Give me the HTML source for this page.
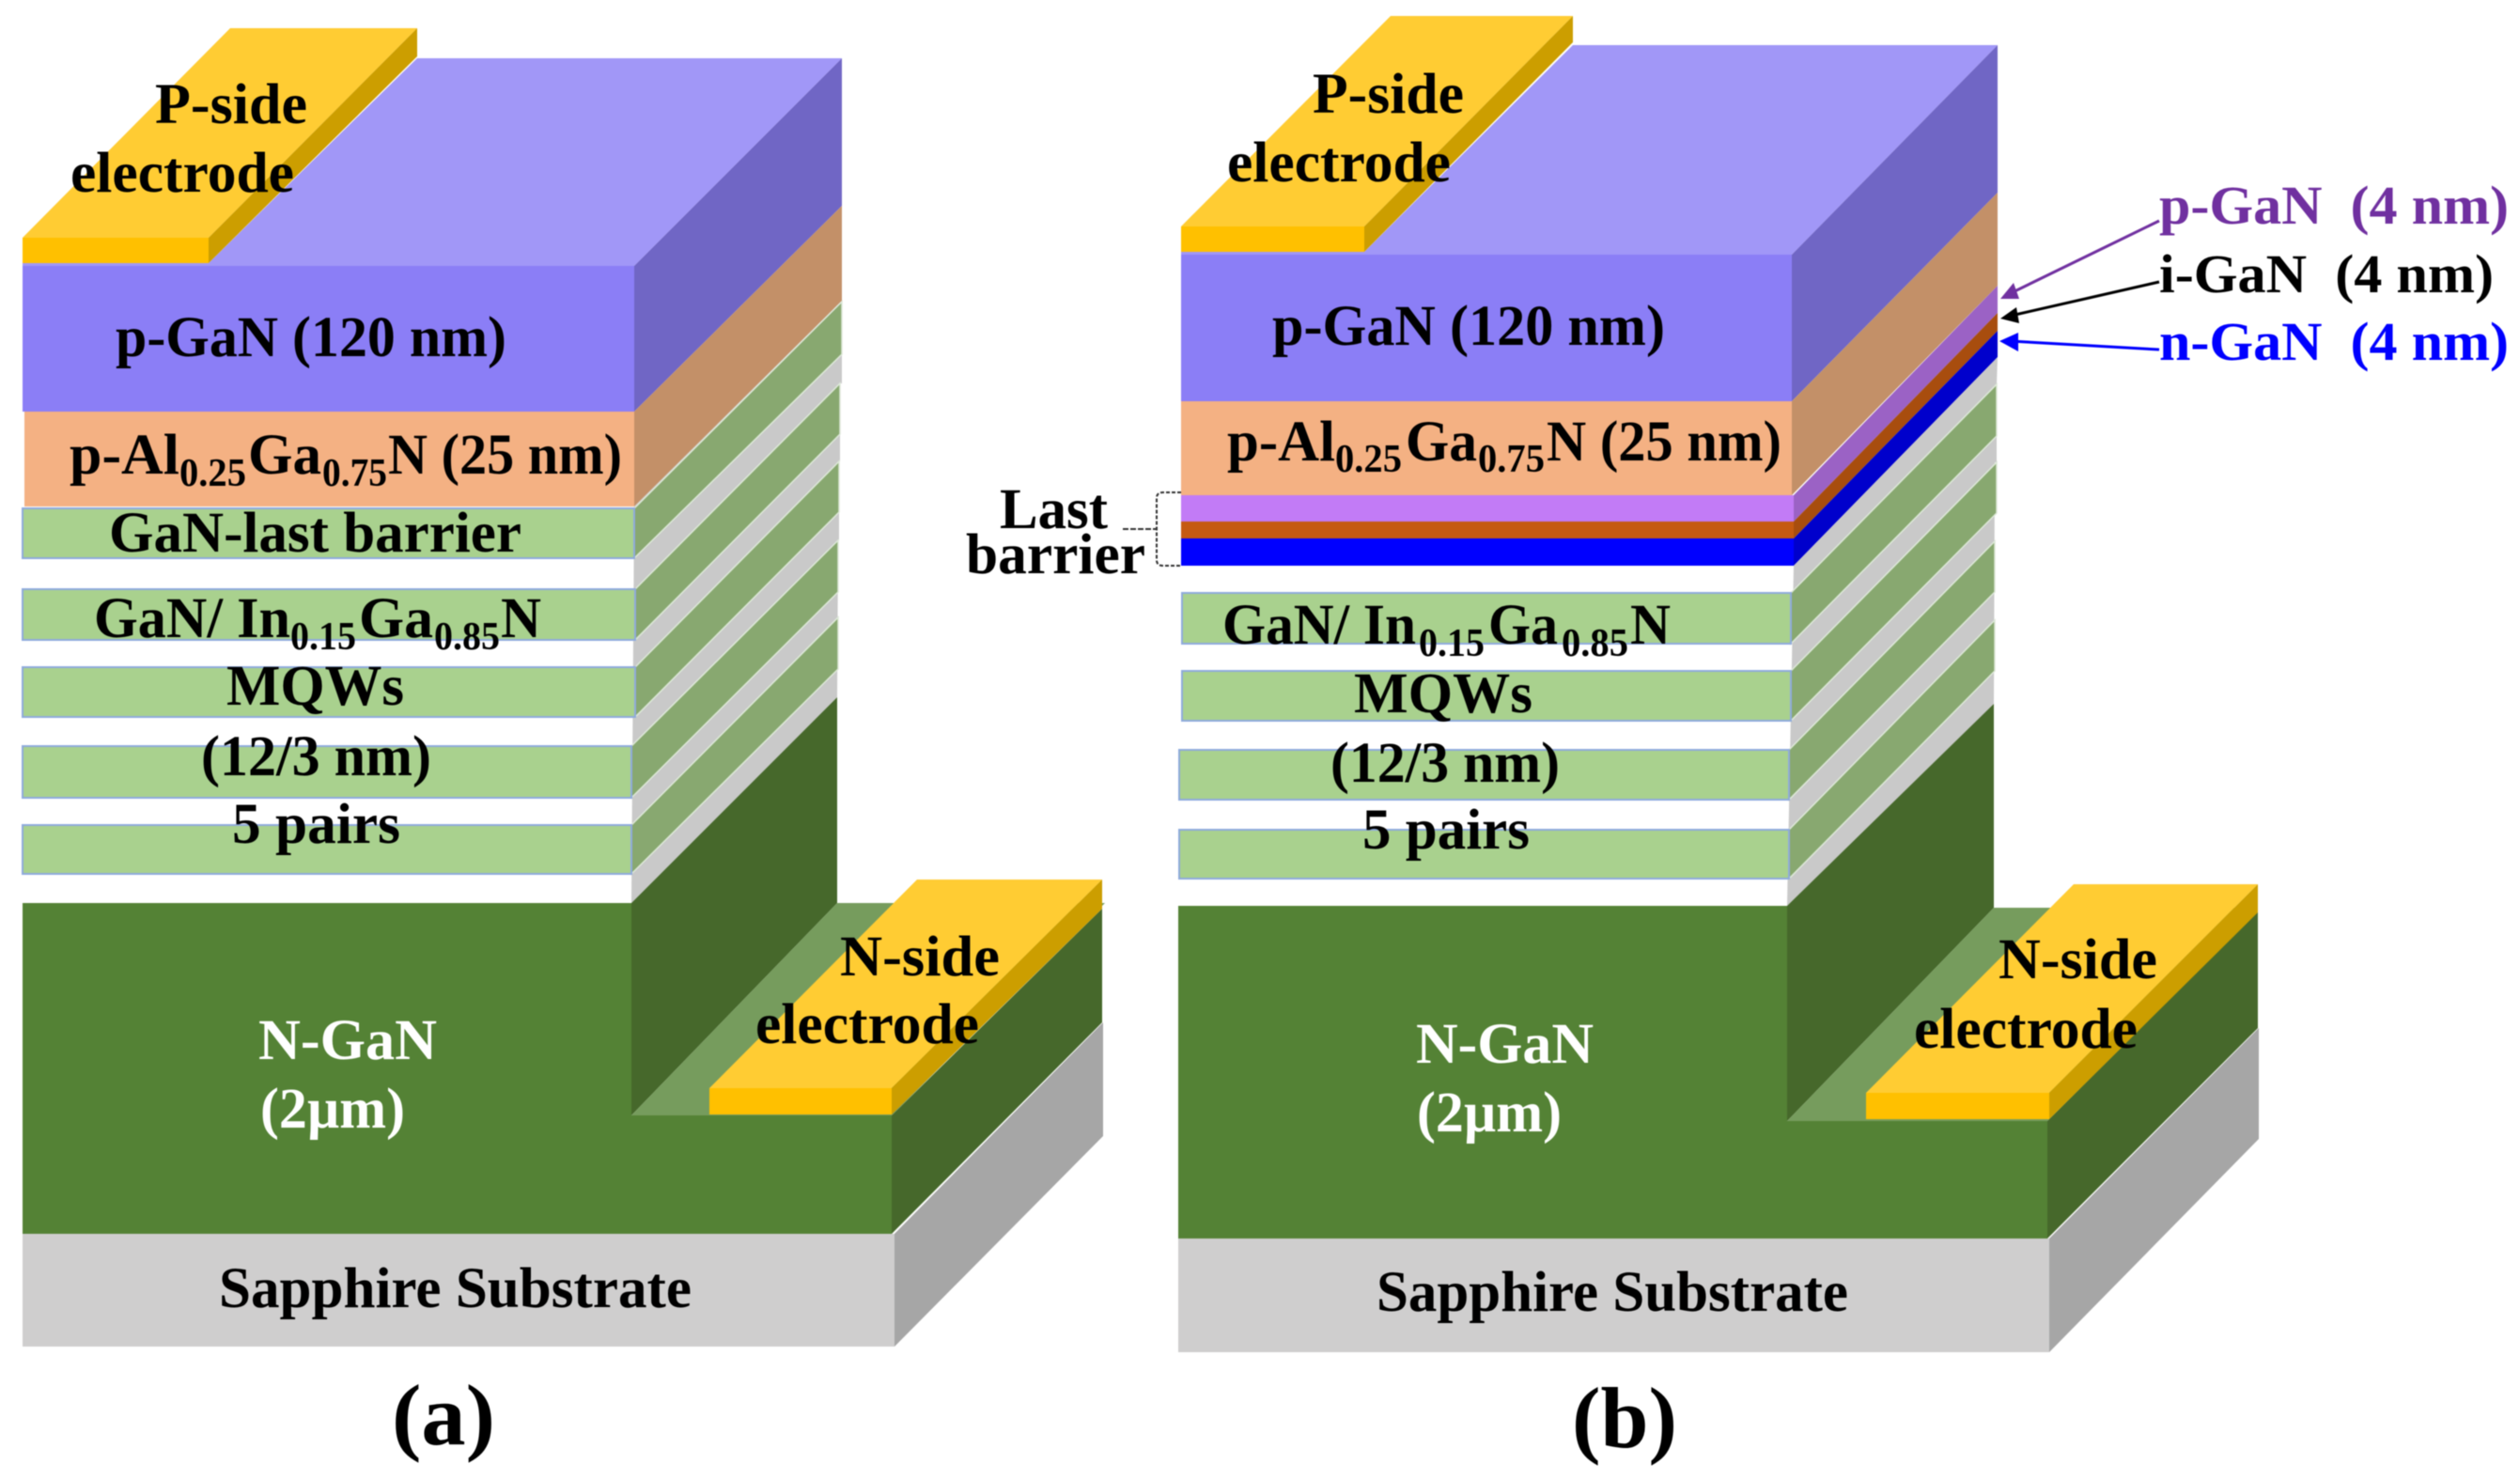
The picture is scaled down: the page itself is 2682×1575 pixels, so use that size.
<!DOCTYPE html>
<html><head><meta charset="utf-8"><style>
html,body{margin:0;padding:0;background:#fff}
svg{display:block;filter:blur(0.6px)}
text{font-family:"Liberation Serif",serif;font-weight:bold;font-size:61px;fill:#000}
.s{font-size:42px}
.w{fill:#fff}
.g{fill:#A9D18E;stroke:#8FAADC;stroke-width:2}
.gs{fill:#88A870;stroke:#DDE8D8;stroke-width:1.5}
</style></head><body>
<svg width="2682" height="1575" viewBox="0 0 2682 1575" xmlns="http://www.w3.org/2000/svg">
<rect width="2682" height="1575" fill="#fff"/>

<!-- PANEL A -->
<polygon points="24,280 222,280 444,62 896,62 675,283 24,283" fill="#A197F7"/>
<polygon points="675,283 896,62 896,219 675,438" fill="#7066C5"/>
<rect x="24" y="283" width="651" height="155" fill="#8B7EF6"/>
<polygon points="675,438 896,219 896,320 675,539" fill="#C39068"/>
<rect x="26" y="438" width="649" height="101" fill="#F4B183"/>
<polygon points="675,539 896,320 896,408 894,408 894,491 893,491 893,575 892,575 891,742 672,961" fill="#C9C9C9"/>
<polygon class="gs" points="675,541 896,321 896,377 675,594"/>
<polygon class="gs" points="676,627 894,408 894,462 676,681"/>
<polygon class="gs" points="676,710 893,491 893,545 676,763"/>
<polygon class="gs" points="672,794 892,575 892,630 672,849"/>
<polygon class="gs" points="672,878 892,657 892,712 672,930"/>
<rect class="g" x="24" y="541" width="651" height="53"/>
<rect class="g" x="24" y="627" width="652" height="54"/>
<rect class="g" x="24" y="710" width="652" height="53"/>
<rect class="g" x="24" y="794" width="648" height="55"/>
<rect class="g" x="24" y="878" width="648" height="52"/>
<polygon points="672,961 891,742 891,961 672,1187" fill="#46682B"/>
<polygon points="672,1187 891,961 1176,961 949,1187" fill="#769C5D"/>
<polygon points="949,1187 1173,967 1173,1088 949,1313" fill="#46682B"/>
<polygon points="24,961 672,961 672,1187 949,1187 949,1313 24,1313" fill="#548235"/>
<polygon points="952,1313 1174,1088 1174,1209 952,1433" fill="#A6A6A6"/>
<rect x="24" y="1313" width="928" height="120" fill="#CFCECE"/>
<polygon points="24,253 222,253 444,30 245,30" fill="#FFCC33"/>
<polygon points="222,253 444,30 444,60 222,280" fill="#CC9E00"/>
<rect x="24" y="253" width="198" height="27" fill="#FFC000"/>
<polygon points="755,1158 949,1158 1173,936 976,936" fill="#FFCC33"/>
<polygon points="949,1158 1173,936 1173,967 949,1186" fill="#CC9E00"/>
<rect x="755" y="1158" width="194" height="28" fill="#FFC000"/>

<text x="165" y="131" textLength="162" lengthAdjust="spacingAndGlyphs">P-side</text>
<text x="75" y="204" textLength="238" lengthAdjust="spacingAndGlyphs">electrode</text>
<text x="123" y="379" textLength="416" lengthAdjust="spacingAndGlyphs">p-GaN (120 nm)</text>
<text x="74" y="504" textLength="117" lengthAdjust="spacingAndGlyphs">p-Al</text>
<text class="s" x="191" y="517" textLength="71" lengthAdjust="spacingAndGlyphs">0.25</text>
<text x="264" y="504" textLength="78" lengthAdjust="spacingAndGlyphs">Ga</text>
<text class="s" x="343" y="517" textLength="69" lengthAdjust="spacingAndGlyphs">0.75</text>
<text x="413" y="504" textLength="249" lengthAdjust="spacingAndGlyphs">N (25 nm)</text>
<text x="116" y="587" textLength="439" lengthAdjust="spacingAndGlyphs">GaN-last barrier</text>
<text x="100" y="678" textLength="209" lengthAdjust="spacingAndGlyphs">GaN/ In</text>
<text class="s" x="309" y="691" textLength="70" lengthAdjust="spacingAndGlyphs">0.15</text>
<text x="382" y="678" textLength="79" lengthAdjust="spacingAndGlyphs">Ga</text>
<text class="s" x="462" y="691" textLength="70" lengthAdjust="spacingAndGlyphs">0.85</text>
<text x="533" y="678" textLength="43" lengthAdjust="spacingAndGlyphs">N</text>
<text x="241" y="750" textLength="189" lengthAdjust="spacingAndGlyphs">MQWs</text>
<text x="214" y="825" textLength="245" lengthAdjust="spacingAndGlyphs">(12/3 nm)</text>
<text x="247" y="897" textLength="179" lengthAdjust="spacingAndGlyphs">5 pairs</text>
<text class="w" x="275" y="1127" textLength="190" lengthAdjust="spacingAndGlyphs">N-GaN</text>
<text class="w" x="277" y="1200" textLength="154" lengthAdjust="spacingAndGlyphs">(2µm)</text>
<text x="894" y="1038" textLength="170" lengthAdjust="spacingAndGlyphs">N-side</text>
<text x="804" y="1110" textLength="238" lengthAdjust="spacingAndGlyphs">electrode</text>
<text x="233" y="1391" textLength="503" lengthAdjust="spacingAndGlyphs">Sapphire Substrate</text>
<text x="417" y="1537" style="font-size:92px" textLength="110" lengthAdjust="spacingAndGlyphs">(a)</text>

<!-- PANEL B -->
<polygon points="1257,268 1452,268 1674,48 2126,48 1907,271 1257,271" fill="#A197F7"/>
<polygon points="1907,271 2126,48 2126,205 1907,427" fill="#7066C5"/>
<rect x="1257" y="271" width="650" height="156" fill="#8B7EF6"/>
<polygon points="1907,427 2126,205 2126,304 1907,527" fill="#C39068"/>
<rect x="1257" y="427" width="650" height="100" fill="#F4B183"/>
<polygon points="1909,527 2126,304 2126,333 1909,555" fill="#9B62C5"/>
<polygon points="1909,555 2126,333 2126,352 1909,573" fill="#A84D0E"/>
<polygon points="1909,573 2126,352 2126,380 1909,602" fill="#0000CC"/>
<rect x="1257" y="527" width="652" height="28" fill="#C27BF6"/>
<rect x="1257" y="555" width="652" height="18" fill="#C55A11"/>
<rect x="1257" y="573" width="652" height="29" fill="#0000FF"/>
<polygon points="1909,602 2126,380 2125,409 2125,492 2123,492 2122,749 1902,964" fill="#C9C9C9"/>
<polygon class="gs" points="1906,631 2125,409 2125,464 1906,685"/>
<polygon class="gs" points="1906,714 2125,492 2125,546 1906,767"/>
<polygon class="gs" points="1904,798 2123,576 2123,630 1904,851"/>
<polygon class="gs" points="1904,883 2123,660 2123,714 1904,935"/>
<rect class="g" x="1258" y="631" width="648" height="54"/>
<rect class="g" x="1258" y="714" width="648" height="53"/>
<rect class="g" x="1255" y="798" width="649" height="53"/>
<rect class="g" x="1255" y="883" width="649" height="52"/>
<polygon points="1902,964 2122,749 2122,966 1902,1193" fill="#46682B"/>
<polygon points="1902,1193 2122,966 2400,966 2179,1193" fill="#769C5D"/>
<polygon points="2179,1193 2403,970 2403,1094 2179,1318" fill="#46682B"/>
<polygon points="1254,964 1902,964 1902,1193 2179,1193 2179,1318 1254,1318" fill="#548235"/>
<polygon points="2181,1318 2404,1094 2404,1212 2181,1439" fill="#A6A6A6"/>
<rect x="1254" y="1318" width="927" height="121" fill="#CFCECE"/>
<polygon points="1257,241 1452,241 1674,17 1480,17" fill="#FFCC33"/>
<polygon points="1452,241 1674,17 1674,45 1452,268" fill="#CC9E00"/>
<rect x="1257" y="241" width="195" height="27" fill="#FFC000"/>
<polygon points="1986,1163 2181,1163 2403,941 2207,941" fill="#FFCC33"/>
<polygon points="2181,1163 2403,941 2403,971 2181,1191" fill="#CC9E00"/>
<rect x="1986" y="1163" width="195" height="28" fill="#FFC000"/>

<path d="M1257,524 H1238 Q1231,524 1231,530 V596 Q1231,602 1238,602 H1257" fill="none" stroke="#333" stroke-width="2" stroke-dasharray="4 2"/>
<path d="M1195,563 H1230" fill="none" stroke="#333" stroke-width="2" stroke-dasharray="6 2"/>

<text x="1397" y="120" textLength="161" lengthAdjust="spacingAndGlyphs">P-side</text>
<text x="1306" y="193" textLength="238" lengthAdjust="spacingAndGlyphs">electrode</text>
<text x="1354" y="367" textLength="418" lengthAdjust="spacingAndGlyphs">p-GaN (120 nm)</text>
<text x="1306" y="490" textLength="115" lengthAdjust="spacingAndGlyphs">p-Al</text>
<text class="s" x="1421" y="502" textLength="71" lengthAdjust="spacingAndGlyphs">0.25</text>
<text x="1496" y="490" textLength="76" lengthAdjust="spacingAndGlyphs">Ga</text>
<text class="s" x="1573" y="502" textLength="71" lengthAdjust="spacingAndGlyphs">0.75</text>
<text x="1646" y="490" textLength="250" lengthAdjust="spacingAndGlyphs">N (25 nm)</text>
<text x="1064" y="562" textLength="115" lengthAdjust="spacingAndGlyphs">Last</text>
<text x="1028" y="610" textLength="191" lengthAdjust="spacingAndGlyphs">barrier</text>
<text x="1301" y="685" textLength="206" lengthAdjust="spacingAndGlyphs">GaN/ In</text>
<text class="s" x="1510" y="698" textLength="70" lengthAdjust="spacingAndGlyphs">0.15</text>
<text x="1584" y="685" textLength="74" lengthAdjust="spacingAndGlyphs">Ga</text>
<text class="s" x="1662" y="698" textLength="71" lengthAdjust="spacingAndGlyphs">0.85</text>
<text x="1735" y="685" textLength="43" lengthAdjust="spacingAndGlyphs">N</text>
<text x="1441" y="758" textLength="190" lengthAdjust="spacingAndGlyphs">MQWs</text>
<text x="1416" y="832" textLength="244" lengthAdjust="spacingAndGlyphs">(12/3 nm)</text>
<text x="1450" y="903" textLength="178" lengthAdjust="spacingAndGlyphs">5 pairs</text>
<text class="w" x="1507" y="1131" textLength="189" lengthAdjust="spacingAndGlyphs">N-GaN</text>
<text class="w" x="1508" y="1204" textLength="154" lengthAdjust="spacingAndGlyphs">(2µm)</text>
<text x="2127" y="1041" textLength="169" lengthAdjust="spacingAndGlyphs">N-side</text>
<text x="2037" y="1115" textLength="238" lengthAdjust="spacingAndGlyphs">electrode</text>
<text x="1465" y="1395" textLength="502" lengthAdjust="spacingAndGlyphs">Sapphire Substrate</text>
<text x="1673" y="1540" style="font-size:92px" textLength="112" lengthAdjust="spacingAndGlyphs">(b)</text>

<text x="2298" y="238" textLength="372" lengthAdjust="spacingAndGlyphs" style="fill:#7030A0;font-size:58px">p-GaN&#160;&#160;(4 nm)</text>
<text x="2298" y="311" textLength="356" lengthAdjust="spacingAndGlyphs" style="font-size:58px">i-GaN&#160;&#160;(4 nm)</text>
<text x="2298" y="383" textLength="372" lengthAdjust="spacingAndGlyphs" style="fill:#0000FF;font-size:58px">n-GaN&#160;&#160;(4 nm)</text>

<line x1="2298" y1="235" x2="2140" y2="312" stroke="#7030A0" stroke-width="3"/>
<polygon points="2143,301 2129,318 2149,318" fill="#7030A0"/>
<line x1="2298" y1="300" x2="2140" y2="336" stroke="#000" stroke-width="3"/>
<polygon points="2146,327 2129,339 2149,344" fill="#000"/>
<line x1="2298" y1="372" x2="2140" y2="363" stroke="#0000FF" stroke-width="3"/>
<polygon points="2148,354 2128,363 2148,374" fill="#0000FF"/>
</svg>
</body></html>
